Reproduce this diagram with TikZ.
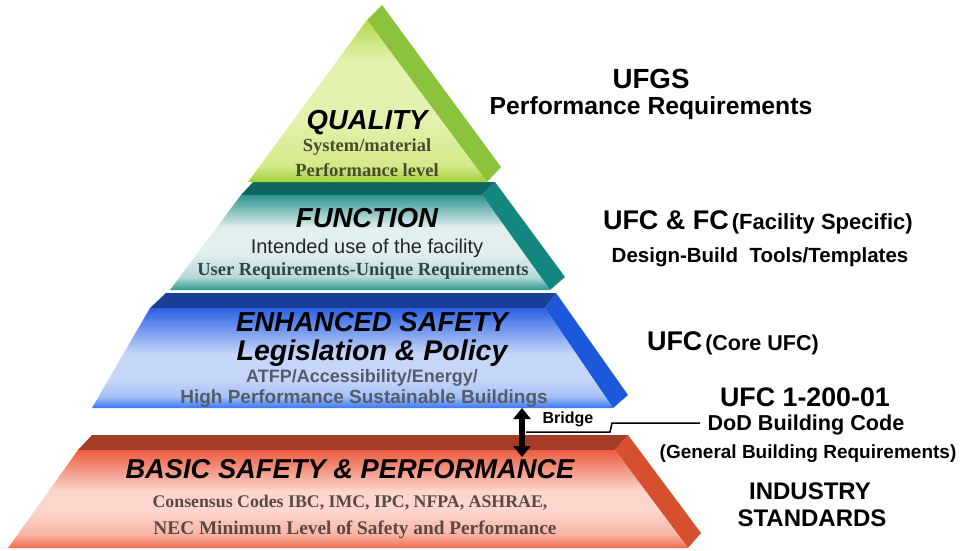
\documentclass[tikz,border=0pt]{standalone}
\usepackage{fontspec}
\setmainfont{Liberation Serif}
\setsansfont{Liberation Sans}
\usetikzlibrary{arrows.meta}
% colours
\definecolor{qtop}{HTML}{B4DA4C}\definecolor{qmid}{HTML}{E4F2B0}\definecolor{qlow}{HTML}{D2EA88}\definecolor{qbot}{HTML}{A4CE3A}\definecolor{qside}{HTML}{8CC33C}
\definecolor{ftop}{HTML}{2E948E}\definecolor{fmid}{HTML}{E2EFEF}\definecolor{flow}{HTML}{B8DADA}\definecolor{fbot}{HTML}{2A9893}\definecolor{fside}{HTML}{148680}\definecolor{fdark}{HTML}{0F6660}
\definecolor{etop}{HTML}{2A60E2}\definecolor{emid}{HTML}{C6D6F8}\definecolor{elow}{HTML}{A8C2F6}\definecolor{ebot}{HTML}{3A78F0}\definecolor{eside}{HTML}{1C58DA}\definecolor{edark}{HTML}{1A3E98}
\definecolor{btop}{HTML}{EC5C40}\definecolor{bmid}{HTML}{FCD6CC}\definecolor{blow}{HTML}{F8B4A4}\definecolor{bbot}{HTML}{F06C4E}\definecolor{bside}{HTML}{D6502E}\definecolor{bdark}{HTML}{A43C28}
\definecolor{qtext}{HTML}{4A4A30}\definecolor{ftext}{HTML}{2F4646}\definecolor{etext}{HTML}{545C6C}\definecolor{btext}{HTML}{5A4844}\definecolor{itext}{HTML}{262626}
% shadings: path box maps to 25bp..75bp
\pgfdeclareverticalshading{qshade}{100bp}{color(0bp)=(qbot); color(25bp)=(qbot); color(30bp)=(qlow); color(45bp)=(qmid); color(62bp)=(qmid); color(75bp)=(qtop); color(100bp)=(qtop)}
\pgfdeclareverticalshading{fshade}{100bp}{color(0bp)=(fbot); color(25bp)=(fbot); color(32bp)=(flow); color(45bp)=(fmid); color(58bp)=(fmid); color(75bp)=(ftop); color(100bp)=(ftop)}
\pgfdeclareverticalshading{eshade}{100bp}{color(0bp)=(ebot); color(25bp)=(ebot); color(31bp)=(elow); color(40bp)=(emid); color(52bp)=(emid); color(75bp)=(etop); color(100bp)=(etop)}
\pgfdeclareverticalshading{bshade}{100bp}{color(0bp)=(bbot); color(25bp)=(bbot); color(32bp)=(blow); color(44bp)=(bmid); color(54bp)=(bmid); color(75bp)=(btop); color(100bp)=(btop)}
\begin{document}
\begin{tikzpicture}[x=1pt,y=-1pt,
  txt/.style={inner sep=0pt,outer sep=0pt},
  head/.style={txt,font=\fontsize{27.5}{30}\selectfont\sffamily\bfseries\itshape},
  sub/.style={txt,font=\fontsize{18.5}{20}\selectfont\rmfamily\bfseries},
  rt/.style={txt,font=\sffamily\bfseries,text=black}]
\useasboundingbox (0,0) rectangle (961,550);
% ---------- BASIC
\fill[bdark] (78,450) -- (92,435) -- (628,435) -- (615,450) -- cycle;
\fill[bside] (615,450) -- (628,435) -- (701,533) -- (688,548) -- cycle;
\shade[shading=bshade] (78,450) -- (615,450) -- (688,548) -- (8,548) -- cycle;
% ---------- ENHANCED
\fill[edark] (150,308) -- (166,293) -- (556,293) -- (545,308) -- cycle;
\fill[eside] (545,308) -- (556,293) -- (628,395) -- (613,408) -- cycle;
\shade[shading=eshade] (150,308) -- (545,308) -- (613,408) -- (92,408) -- cycle;
% ---------- FUNCTION
\fill[fdark] (241,195) -- (253,182) -- (495,182) -- (482,195) -- cycle;
\fill[fside] (482,195) -- (495,182) -- (565,277) -- (550,290) -- cycle;
\shade[shading=fshade] (241,195) -- (482,195) -- (550,290) -- (170,290) -- cycle;
% ---------- QUALITY
\fill[qside] (367,20) -- (382,5) -- (501,167) -- (487,182) -- cycle;
\shade[shading=qshade] (367,20) -- (487,182) -- (248,182) -- cycle;
% ---------- pyramid texts
\node[head] (qual) at (367,123) {QUALITY};
\node[sub,text=qtext] (qual1) at (367,147) {System/material};
\node[sub,text=qtext] (qual2) at (367,170) {Performance level};
\node[head] (func) at (367,218) {FUNCTION};
\node[txt,font=\fontsize{20}{22}\selectfont\sffamily,text=itext] (func1) at (367,248) {Intended use of the facility};
\node[sub,text=ftext] (func2) at (363,271) {User Requirements-Unique Requirements};
\node[head] (enh) at (372,322) {ENHANCED SAFETY};
\node[head,font=\fontsize{28.5}{30}\selectfont\sffamily\bfseries\itshape] (enh1) at (372,353) {Legislation \& Policy};
\node[txt,font=\fontsize{18}{20}\selectfont\sffamily\bfseries,text=etext] (enh2) at (362,378) {ATFP/Accessibility/Energy/};
\node[txt,font=\fontsize{19}{21}\selectfont\sffamily\bfseries,text=etext] (enh3) at (364,399) {High Performance Sustainable Buildings};
\node[head,font=\fontsize{27.3}{30}\selectfont\sffamily\bfseries\itshape] (bas) at (350,469) {BASIC SAFETY \& PERFORMANCE};
\node[sub,font=\fontsize{17.8}{20}\selectfont\rmfamily\bfseries,text=btext] (bas1) at (350,503) {Consensus Codes IBC, IMC, IPC, NFPA, ASHRAE,};
\node[sub,font=\fontsize{19.3}{21}\selectfont\rmfamily\bfseries,text=btext] (bas2) at (355,530) {NEC Minimum Level of Safety and Performance};
% ---------- right texts
\node[rt,font=\fontsize{27.7}{30}\selectfont\sffamily\bfseries] (ufgs) at (651,79) {UFGS};
\node[rt,font=\fontsize{24.7}{27}\selectfont\sffamily\bfseries] (ufgs1) at (651,108) {Performance Requirements};
\node[rt,anchor=west] (ufcfc) at (603,222) {{\fontsize{27}{30}\selectfont UFC \& FC} {\fontsize{22}{24}\selectfont (Facility Specific)}};
\node[rt,font=\fontsize{20.5}{22}\selectfont\sffamily\bfseries] (dbt) at (760,257) {Design-Build\ \ Tools/Templates};
\node[rt,anchor=west] (ufc) at (647,343) {{\fontsize{27}{30}\selectfont UFC} {\fontsize{21.5}{24}\selectfont (Core UFC)}};
\node[rt,font=\fontsize{26.8}{30}\selectfont\sffamily\bfseries] (ufc1) at (805,397) {UFC 1-200-01};
\node[rt,font=\fontsize{21.6}{24}\selectfont\sffamily\bfseries] (dod) at (806,425) {DoD Building Code};
\node[rt,font=\fontsize{19}{22}\selectfont\sffamily\bfseries] (gen) at (808,454) {(General Building Requirements)};
\node[rt,font=\fontsize{24}{27}\selectfont\sffamily\bfseries] (ind) at (810,491) {INDUSTRY};
\node[rt,font=\fontsize{24}{27}\selectfont\sffamily\bfseries] (std) at (812,518) {STANDARDS};
% ---------- bridge
\coordinate (brtop) at (522,408);
\coordinate (brbot) at (522,457);
\draw[line width=6pt,{Triangle[width=17pt,length=11pt]}-{Triangle[width=17pt,length=11pt]}] (brtop) -- (brbot);
\node[rt,font=\fontsize{16}{18}\selectfont\sffamily\bfseries] (bridge) at (568,419) {Bridge};
\coordinate (lnstart) at (526,432);
\coordinate (lnend) at (700,423);
\draw[line width=1.5pt] (lnstart) -- (610,432) -- (612,423) -- (lnend);
\end{tikzpicture}
\end{document}
